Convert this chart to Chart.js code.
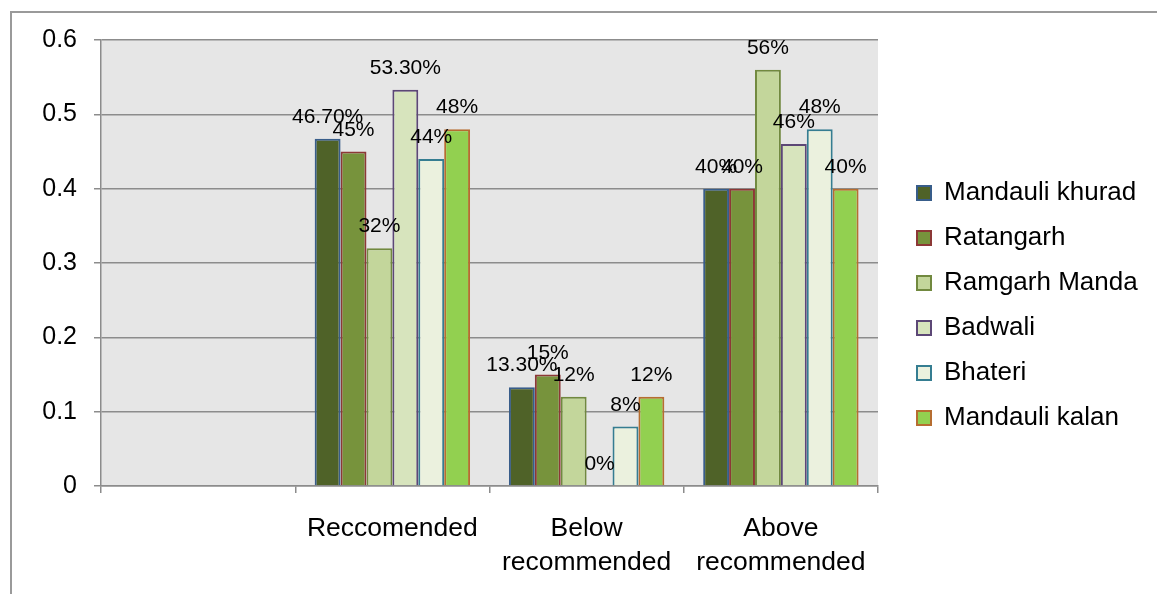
<!DOCTYPE html>
<html>
<head>
<meta charset="utf-8">
<script src="https://cdn.jsdelivr.net/npm/chart.js@4.4.1/dist/chart.umd.min.js"></script>
<style>
html,body{margin:0;padding:0;background:#fff;overflow:hidden;}
#frame{position:absolute;left:10px;top:11px;width:1300px;height:800px;border:2px solid #9a9a9a;box-sizing:border-box;}
#wrap{position:absolute;left:0;top:0;width:1157px;height:594px;}
</style>
</head>
<body>
<div id="frame"></div>
<div id="wrap"><canvas id="c" width="1157" height="594"></canvas></div>
<script>
// ---- data ----
const categories = ["", "Reccomended", ["Below", "recommended"], ["Above", "recommended"]];
const seriesNames = ["Mandauli khurad", "Ratangarh", "Ramgarh Manda", "Badwali", "Bhateri", "Mandauli kalan"];
const mandauliKhurad = [null, 0.467, 0.133, 0.40];
const ratangarh      = [null, 0.45,  0.15,  0.40];
const ramgarhManda   = [null, 0.32,  0.12,  0.56];
const badwali        = [null, 0.533, 0.00,  0.46];
const bhateri        = [null, 0.44,  0.08,  0.48];
const mandauliKalan  = [null, 0.48,  0.12,  0.40];
const yTickLabels = ["0", "0.1", "0.2", "0.3", "0.4", "0.5", "0.6"];

// ---- styles ----
const fillColors   = ["#4F6228", "#77933C", "#C3D69B", "#D7E4BD", "#EBF1DE", "#92D050"];
const borderColors = ["#385D8A", "#8C3836", "#71893F", "#5C4776", "#357D91", "#B66D31"];
const FONT = '"Liberation Sans", Arial, sans-serif';
const GRID = '#8c8c8c';
const LEGEND_LEFT = 898;

const seriesData = [mandauliKhurad, ratangarh, ramgarhManda, badwali, bhateri, mandauliKalan];

function fmtPct(v) {
  const n = Math.round(v * 10000) / 100;
  return (n % 1 === 0 ? String(n) : n.toFixed(2)) + '%';
}

const plotBg = {
  id: 'plotBg',
  beforeDraw(chart) {
    const {ctx, chartArea: a} = chart;
    ctx.save();
    ctx.fillStyle = '#e6e6e6';
    ctx.fillRect(a.left, a.top, a.right - a.left, a.bottom - a.top);
    ctx.restore();
  }
};

const valueLabels = {
  id: 'valueLabels',
  afterDatasetsDraw(chart) {
    const ctx = chart.ctx;
    ctx.save();
    ctx.font = '21px ' + FONT;
    ctx.fillStyle = '#000';
    ctx.textAlign = 'center';
    ctx.textBaseline = 'alphabetic';
    chart.data.datasets.forEach((ds, i) => {
      const meta = chart.getDatasetMeta(i);
      meta.data.forEach((bar, j) => {
        const v = ds.data[j];
        if (v === null || v === undefined) return;
        ctx.fillText(fmtPct(v), bar.x, bar.y - 16);
      });
    });
    ctx.restore();
  }
};

const datasets = seriesNames.map((name, i) => ({
  label: name,
  data: seriesData[i],
  backgroundColor: fillColors[i],
  borderColor: borderColors[i],
  borderWidth: (c) => (c.raw === 0 ? 0 : 2),
  categoryPercentage: 0.8,
  barPercentage: 1.0
}));

new Chart(document.getElementById('c'), {
  type: 'bar',
  data: { labels: categories, datasets },
  plugins: [plotBg, valueLabels],
  options: {
    responsive: false,
    animation: false,
    layout: { padding: { top: 40, right: 0, bottom: 23, left: 0 } },
    plugins: {
      tooltip: { enabled: false },
      legend: {
        position: 'right',
        align: 'center',
        labels: {
          boxWidth: 14,
          boxHeight: 14,
          padding: 19,
          color: '#000',
          font: { size: 26, family: FONT }
        }
      }
    },
    scales: {
      x: {
        grid: { offset: true, drawOnChartArea: false, tickLength: 7, color: GRID, lineWidth: 1.5 },
        border: { color: GRID, width: 1.5 },
        ticks: {
          padding: 19, color: '#000', maxRotation: 0, autoSkip: false,
          font: { size: 26.5, family: FONT, lineHeight: 1.28 }
        },
        afterFit(s) { s.height = 85; s.paddingLeft = 0; s.paddingRight = 0; }
      },
      y: {
        min: 0, max: 0.6,
        grid: { color: GRID, lineWidth: 1.5, tickLength: 7, tickColor: GRID },
        border: { color: GRID, width: 1.5 },
        ticks: {
          stepSize: 0.1, padding: 17, color: '#000',
          font: { size: 25, family: FONT },
          callback: (v, i) => yTickLabels[i]
        },
        afterFit(s) { s.width = 101; s.paddingTop = 0; s.paddingBottom = 0; }
      },
      yR: {
        position: 'right',
        display: false,
        weight: 0,
        afterFit(s) { s.width = LEGEND_LEFT - 878; s.paddingTop = 0; s.paddingBottom = 0; }
      },
      yOuter: {
        position: 'right',
        display: false,
        weight: 2000,
        afterFit(s) {
          const lg = s.chart.legend;
          const lw = lg && lg.width ? lg.width : 0;
          s.width = Math.max(0, 1157 - LEGEND_LEFT - lw);
          s.paddingTop = 0; s.paddingBottom = 0;
        }
      }
    }
  }
});
</script>
</body>
</html>
